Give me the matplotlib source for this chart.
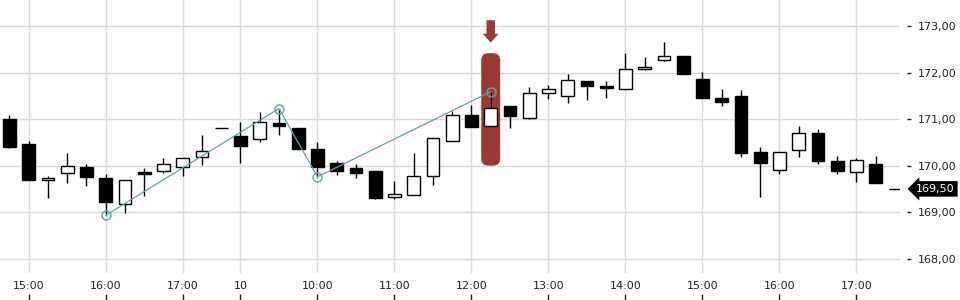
import matplotlib
matplotlib.use('Agg')
import matplotlib.pyplot as plt
from matplotlib.patches import FancyBboxPatch
import numpy as np

# 15-min Kerzen, Index 0 = 14:45 (Tag 1), Index 12 = 09:00 (Tag 10)
opens = [171.01, 170.46, 169.70, 169.85, 169.98, 169.74, 169.18, 169.86, 169.89, 169.98,
         170.19, 170.80, 170.63, 170.58, 170.91, 170.82, 170.35, 170.05, 169.94, 169.88,
         169.33, 169.37, 169.78, 170.54, 171.08, 170.86, 171.28, 171.03, 171.57, 171.51,
         171.83, 171.71, 171.64, 172.09, 172.28, 172.35, 171.86, 171.46, 171.51, 170.30,
         169.91, 170.34, 170.71, 170.10, 169.87, 170.04, 169.50]
highs = [171.08, 170.54, 169.77, 170.27, 170.03, 169.83, 169.70, 169.96, 170.16, 170.17,
         170.66, 170.80, 170.95, 171.15, 171.23, 170.82, 170.50, 170.09, 170.03, 169.88,
         169.68, 170.28, 170.60, 171.17, 171.31, 171.59, 171.28, 171.69, 171.74, 171.97,
         171.83, 171.83, 172.42, 172.33, 172.66, 172.35, 172.01, 171.64, 171.62, 170.41,
         170.30, 170.86, 170.78, 170.20, 170.17, 170.20, 169.50]
lows = [170.38, 169.69, 169.30, 169.63, 169.56, 168.93, 168.98, 169.34, 169.84, 169.77,
        170.02, 170.80, 170.06, 170.51, 170.67, 170.36, 169.76, 169.80, 169.73, 169.28,
        169.28, 169.37, 169.58, 170.54, 170.83, 170.86, 170.81, 171.00, 171.44, 171.35,
        171.41, 171.46, 171.64, 172.05, 172.26, 171.97, 171.45, 171.28, 170.18, 169.32,
        169.82, 170.18, 170.03, 169.82, 169.64, 169.62, 169.50]
closes = [170.40, 169.69, 169.74, 170.00, 169.75, 169.21, 169.70, 169.82, 170.03, 170.17,
          170.32, 170.80, 170.42, 170.95, 170.86, 170.36, 169.98, 169.89, 169.85, 169.30,
          169.39, 169.78, 170.60, 171.08, 170.83, 171.25, 171.07, 171.57, 171.66, 171.85,
          171.71, 171.67, 172.09, 172.13, 172.37, 171.97, 171.45, 171.36, 170.27, 170.05,
          170.30, 170.71, 170.09, 169.88, 170.12, 169.62, 169.50]

# Zickzack-Linie (Wendepunkte)
zz_idx = [5, 14, 16, 25]
zz_val = [168.93, 171.23, 169.76, 171.59]

# markierte Kerze
mark_idx = 25
mark_lo, mark_hi = 170.00, 172.42
last_price = 169.50

tick_pos = [1, 5, 9, 12, 16, 20, 24, 28, 32, 36, 40, 44]
tick_labels = ['15:00', '16:00', '17:00', '10', '10:00', '11:00', '12:00',
               '13:00', '14:00', '15:00', '16:00', '17:00']
y_ticks = [168, 169, 170, 171, 172, 173]

red = '#9b3a33'
teal = '#5fa3ab'
txt = '#222222'

fig = plt.figure(figsize=(9.6, 3), dpi=100)
ax = fig.add_axes([0, 0.09, 900 / 960, 0.91])

o = np.array(opens)
c = np.array(closes)
x = np.arange(len(o))
up = c >= o
body_bottom = np.minimum(o, c)
body_h = np.maximum(np.abs(c - o), 0.004)

ax.vlines(x, lows, highs, color='black', lw=1, zorder=3)
ax.bar(x, body_h, bottom=body_bottom, width=0.66,
       color=np.where(up, 'white', 'black'), edgecolor='black', lw=1, zorder=4)

# rote Markierung
hl = FancyBboxPatch((mark_idx - 0.49, mark_lo), 0.98, mark_hi - mark_lo,
                    boxstyle='round,pad=0,rounding_size=0.36',
                    mutation_aspect=0.414, fc=red, ec='none', zorder=2)
ax.add_patch(hl)
ax.arrow(mark_idx, 173.13, 0, -0.48, width=0.44, head_width=0.83, head_length=0.19,
         length_includes_head=True, color=red, lw=0, zorder=6)

ax.plot(zz_idx, zz_val, color=teal, lw=0.9, marker='o', mfc='none', mec=teal,
        ms=6.5, mew=1, zorder=5)

ax.set_xlim(-0.49, 46.26)
ax.set_ylim(167.689, 173.566)

for s in ['top', 'left', 'bottom']:
    ax.spines[s].set_visible(False)
ax.spines['right'].set_color('none')
ax.spines['right'].set_position(('outward', 5))

ax.set_axisbelow(True)
ax.grid(True, color='#dadada', lw=1)

ax.yaxis.tick_right()
ax.set_yticks(y_ticks, [f'{v:.2f}'.replace('.', ',') for v in y_ticks])
ax.tick_params(axis='y', length=3, width=1, direction='out', pad=5,
               labelsize=8, colors=txt)

ax.set_xticks(tick_pos, tick_labels)
ax.tick_params(axis='x', length=0, pad=6, labelsize=8, colors=txt)

sec = ax.secondary_xaxis(-27 / 273)
sec.set_xticks(tick_pos, [''] * len(tick_pos))
sec.tick_params(direction='in', length=4.3, width=1, color=txt)
sec.spines['bottom'].set_visible(False)

ax.text(1.018, last_price, f'{last_price:.2f}'.replace('.', ','),
        transform=ax.get_yaxis_transform(), ha='left', va='center',
        color='white', fontsize=8,
        bbox=dict(boxstyle='larrow,pad=0.25', fc='black', ec='none'))

fig.savefig('out.png', dpi=100)
